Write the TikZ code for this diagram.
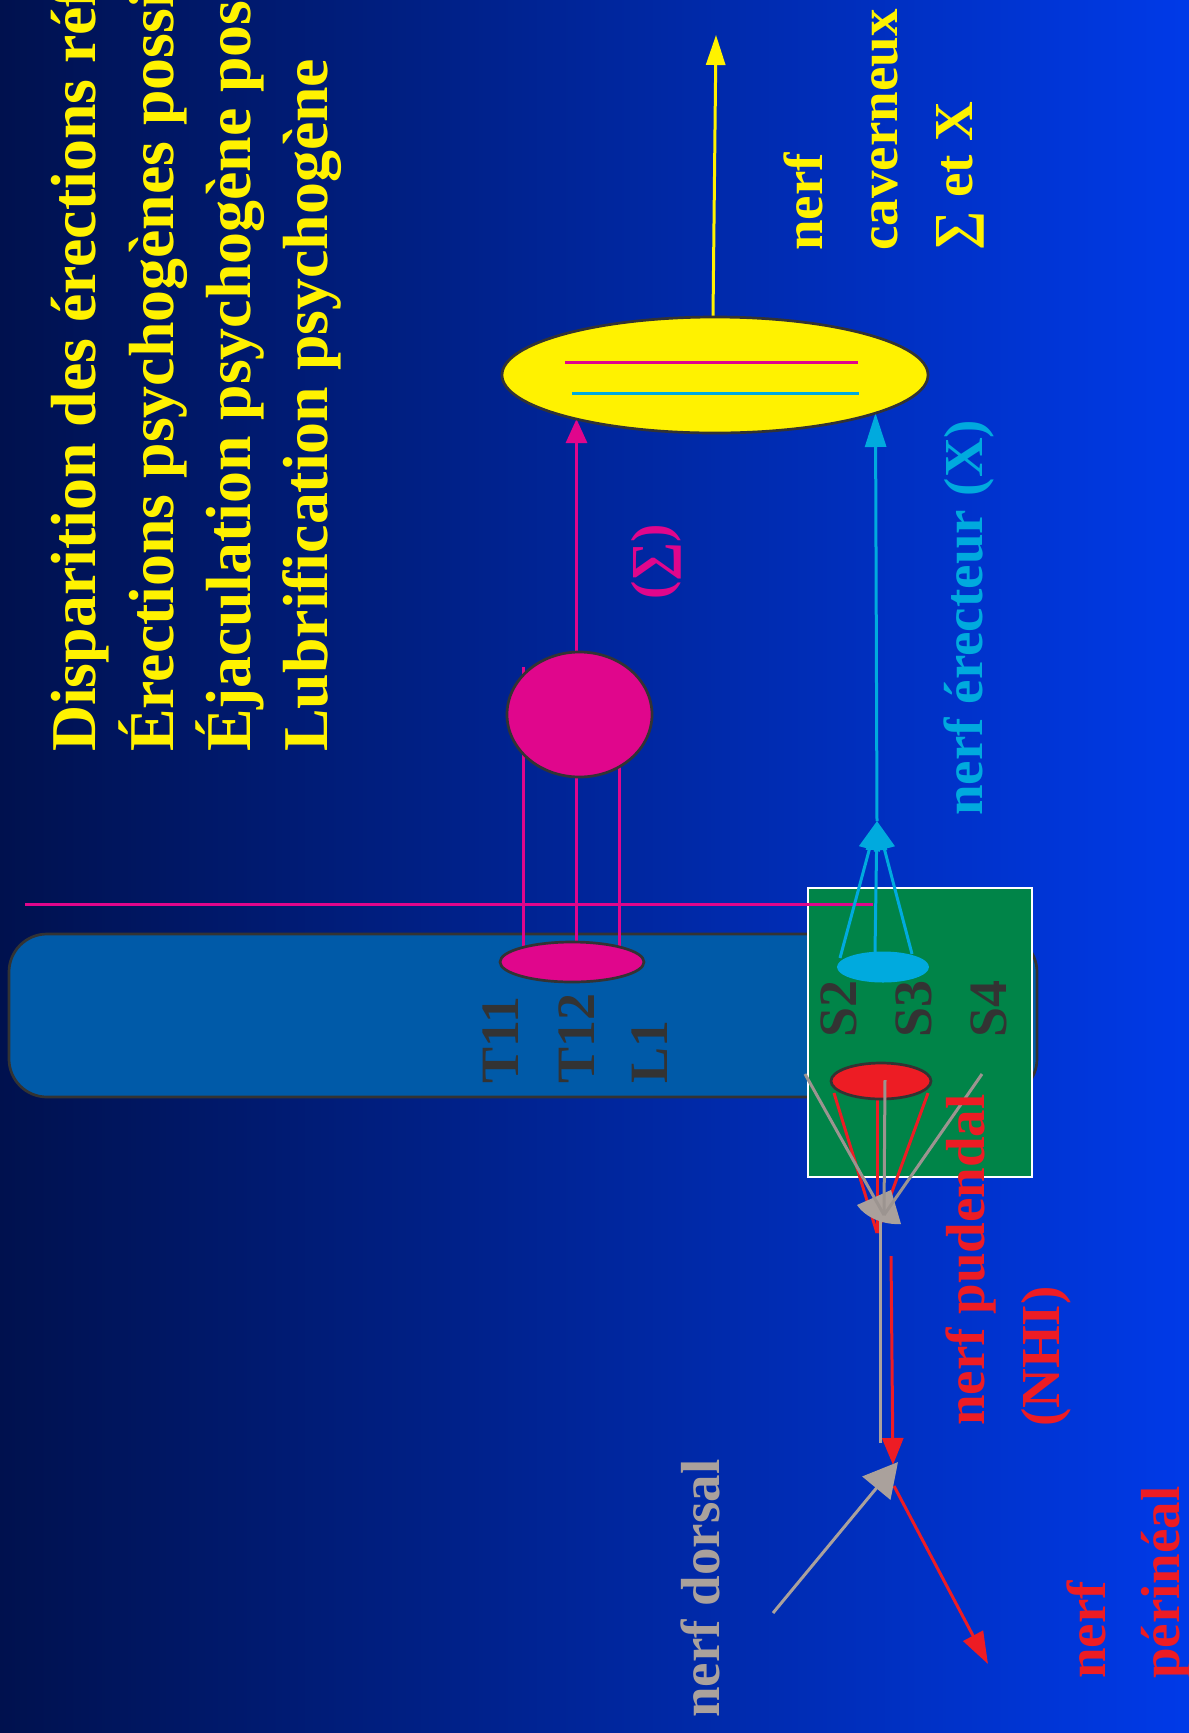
\documentclass[tikz,border=0pt]{standalone}
\usepackage{fontspec}
\setmainfont{Liberation Serif}
\usetikzlibrary{shapes.geometric,arrows.meta}
\pgfdeclarelayer{back}
\pgfdeclarelayer{mid}
\pgfsetlayers{back,mid,main}
\definecolor{bgL}{RGB}{0,17,78}
\definecolor{bgM}{RGB}{0,44,190}
\definecolor{bgR}{RGB}{0,58,232}
\definecolor{cordblue}{RGB}{0,90,168}
\definecolor{sacgreen}{RGB}{0,132,72}
\definecolor{mag}{RGB}{224,6,140}
\definecolor{yel}{RGB}{255,242,0}
\definecolor{cya}{RGB}{0,170,222}
\definecolor{rd}{RGB}{237,28,36}
\definecolor{gry}{RGB}{170,161,156}
\definecolor{dk}{RGB}{51,51,51}
\begin{document}
\begin{tikzpicture}[x=1pt,y=-1pt,
  blob/.style={ellipse, inner sep=0pt, draw=dk, line width=2.7pt},
  lbl/.style={rotate=90, anchor=base west, inner sep=0pt, font=\fontsize{55}{66}\selectfont\bfseries},
  ttl/.style={lbl, font=\fontsize{63.8}{76}\selectfont\bfseries, text=yel},
  lvl/.style={lbl, font=\fontsize{54}{64}\selectfont\bfseries, text=dk},
  wire/.style={line width=3pt},
  tipMag/.style={-{Triangle[width=21pt,length=24pt]}},
  tipFan/.style={-{Triangle[width=21pt,length=29pt]}},
  tipCya/.style={-{Triangle[width=21pt,length=34pt]}},
  tipYel/.style={-{Triangle[width=19pt,length=30pt]}},
  tipRed/.style={-{Triangle[width=21pt,length=27pt]}},
  tipPer/.style={-{Triangle[width=22pt,length=32pt]}},
  tipGry/.style={-{Triangle[width=36pt,length=34pt]}},
]
\useasboundingbox (0,0) rectangle (1189,1733);

% ---------- back layer ----------
\begin{pgfonlayer}{back}
\shade[left color=bgL, middle color=bgM, right color=bgR] (0,0) rectangle (1189,1733);
\node[draw=dk, line width=2.7pt, fill=cordblue, rounded corners=38pt, inner sep=0pt,
      minimum width=1028pt, minimum height=163pt] (cord) at (523,1015.5) {};
\node[draw=white, line width=2.2pt, fill=sacgreen, inner sep=0pt,
      minimum width=224pt, minimum height=289pt] (sacral) at (920,1032.5) {};
\end{pgfonlayer}

% ---------- nodes ----------
\node[blob, fill=yel, minimum width=426pt, minimum height=116pt] (gland) at (715,375) {};
\node[blob, fill=mag, minimum width=145pt, minimum height=125pt] (ganglion) at (579.5,714.5) {};
\node[blob, fill=mag, minimum width=144pt, minimum height=40pt] (tlroot) at (572,962) {};
\node[ellipse, inner sep=0pt, fill=cya, minimum width=92pt, minimum height=31pt] (sroot) at (883,967) {};
\node[blob, fill=rd, minimum width=100pt, minimum height=36pt] (proot) at (881,1081) {};

% lines inside the gland
\draw[wire, mag] (565,362) -- (858,362);
\draw[wire, cya] (572,393) -- (859,393);

% ---------- named points ----------
\coordinate (hL) at (25,904);
\coordinate (hR) at (873,904);
\coordinate (mL) at (523,667);
\coordinate (mR) at (619,667);
\coordinate (mM) at (576.5,0);
\coordinate (mTip) at (576.5,419);
\coordinate (cJ) at (877,821);
\coordinate (cA) at (840,958);
\coordinate (cB) at (875,952);
\coordinate (cC) at (912,954);
\coordinate (cTip) at (875.5,413);
\coordinate (yTip) at (716,35);
\coordinate (rA) at (834,1093);
\coordinate (rB) at (877,1099);
\coordinate (rC) at (928,1093);
\coordinate (rJ) at (877,1233);
\coordinate (rV) at (891,1256);
\coordinate (pudJ) at (893,1465);
\coordinate (rP) at (894,1486);
\coordinate (perTip) at (988,1664);
\coordinate (gA) at (805,1074);
\coordinate (gB) at (885,1080);
\coordinate (gC) at (982,1074);
\coordinate (gJ) at (884,1215);
\coordinate (gV) at (880,1443);
\coordinate (gV2) at (880,1215);
\coordinate (dors) at (773,1613);
\coordinate (dTip) at (898,1462);

% ---------- wires under the nodes ----------
\begin{pgfonlayer}{mid}
\draw[wire, mag] (hL) -- (hR);
\draw[wire, mag] (mL) -- (mL |- tlroot.center);
\draw[wire, mag] (mR) -- (mR |- tlroot.center);
\draw[wire, mag, tipMag] (mM |- tlroot.center) -- (mTip);
\draw[wire, cya, tipFan] (cA) -- (cJ);
\draw[wire, cya, tipFan] (cB) -- (cJ);
\draw[wire, cya, tipFan] (cC) -- (cJ);
\draw[wire, cya, tipCya] (cJ) -- (cTip);
\draw[wire, yel, tipYel] (713,317) -- (yTip);
\draw[wire, rd] (rA) -- (rJ);
\draw[wire, rd] (rB) -- (rJ);
\draw[wire, rd] (rC) -- (rJ);
\end{pgfonlayer}

% ---------- wires over the nodes ----------
\draw[wire, rd, tipRed] (rV) -- (pudJ);
\draw[wire, rd, tipPer] (rP) -- (perTip);
\draw[wire, gry] (gV) -- (gV2);
\fill[gry] (857,1205) -- (891,1190) -- (901,1224) .. controls (884,1225) and (866,1218) .. cycle;
\draw[wire, gry!92!black] (gA) -- (gJ);
\draw[wire, gry!92!black] (gB) -- (gJ);
\draw[wire, gry!92!black] (gC) -- (gJ);
\draw[wire, gry, tipGry] (dors) -- (dTip);

% ---------- texts ----------
\node[ttl] (t1) at (95,752) {Disparition des érections réflexes};
\node[ttl] (t2) at (173,752) {Érections psychogènes possibles};
\node[ttl] (t3) at (250,752) {Éjaculation psychogène possible};
\node[ttl] (t4) at (327,752) {Lubrification psychogène};

\node[lbl, text=yel] (l1) at (822,251) {nerf};
\node[lbl, text=yel] (l2) at (897,251) {caverneux};
\node[lbl, text=yel] (l3) at (972,251) {∑ et X};
\node[lbl, text=cya] (l4) at (982,816) {nerf érecteur (X)};
\node[rotate=90, inner sep=0pt, text=mag, font=\fontsize{55}{66}\selectfont\bfseries] (l5) at (656,562) {(∑)};
\node[lbl, text=rd] (l6) at (984,1426) {nerf pudendal};
\node[lbl, text=rd] (l7) at (1059,1427) {(NHI)};
\node[lbl, text=gry] (l8) at (719,1718) {nerf dorsal};
\node[lbl, text=rd] (l9) at (1105,1679) {nerf};
\node[lbl, text=rd] (l10) at (1179,1679) {périnéal};

\node[lvl] (v1) at (518,1084) {T11};
\node[lvl] (v2) at (594,1084) {T12};
\node[lvl] (v3) at (667,1084) {L1};
\node[lvl] (v4) at (856,1038) {S2};
\node[lvl] (v5) at (931,1038) {S3};
\node[lvl] (v6) at (1006,1038) {S4};
\end{tikzpicture}
\end{document}
